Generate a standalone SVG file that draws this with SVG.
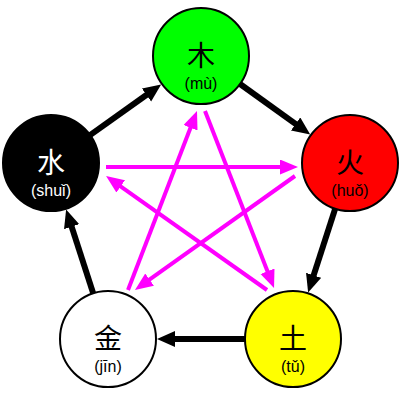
<svg xmlns="http://www.w3.org/2000/svg" width="400" height="400" viewBox="0 0 400 400">
<style>
.gen{stroke:#000;stroke-width:6;fill:none;marker-end:url(#ah)}
.ctl{stroke:#ff00ff;stroke-width:4;fill:none;marker-end:url(#mh)}
.node circle{stroke:#000;stroke-width:2}
.ch{font-family:"Noto Sans CJK SC","Noto Sans CJK TC",sans-serif;font-size:28px;text-anchor:middle}
.py{font-family:"Liberation Sans",Arial,sans-serif;font-size:16px;text-anchor:middle}
</style>
<defs>
<marker id="ah" markerUnits="userSpaceOnUse" markerWidth="20" markerHeight="18" refX="8" refY="8" orient="auto">
<path d="M0,0 L18,8 L0,16 z" fill="#000"/>
</marker>
<marker id="mh" markerUnits="userSpaceOnUse" markerWidth="20" markerHeight="18" refX="8" refY="7.5" orient="auto">
<path d="M0,0 L18,7.5 L0,15 z" fill="#ff00ff"/>
</marker>
</defs>
<g id="connectors">
<line class="gen" x1="87.6" y1="136.9" x2="153.0" y2="90.3"/>
<line class="gen" x1="237.6" y1="82.3" x2="302.1" y2="128.6"/>
<line class="gen" x1="336.1" y1="205.8" x2="311.2" y2="282.9"/>
<line class="gen" x1="248" y1="339" x2="167" y2="339"/>
<line class="gen" x1="94.1" y1="296.2" x2="69.2" y2="219.1"/>
<line class="ctl" x1="106" y1="167" x2="288" y2="167"/>
<line class="ctl" x1="295" y1="176" x2="143.1" y2="284.2"/>
<line class="ctl" x1="267" y1="290" x2="114.2" y2="181.8"/>
<line class="ctl" x1="128" y1="290" x2="193.4" y2="120.3"/>
<line class="ctl" x1="205" y1="111" x2="270.4" y2="278.7"/>
</g>
<g id="wood" class="node">
<circle cx="201" cy="56" r="48" fill="#00ff00"/>
<text class="ch" x="201" y="65.5">木</text>
<text class="py" x="201" y="88.5">(mù)</text>
</g>
<g id="fire" class="node">
<circle cx="350" cy="163" r="48" fill="#ff0000"/>
<text class="ch" x="350" y="172.5">火</text>
<text class="py" x="350" y="195.5">(huǒ)</text>
</g>
<g id="earth" class="node">
<circle cx="293" cy="339" r="48" fill="#ffff00"/>
<text class="ch" x="293" y="348.5">土</text>
<text class="py" x="293" y="371.5">(tǔ)</text>
</g>
<g id="metal" class="node">
<circle cx="108" cy="339" r="48" fill="#ffffff"/>
<text class="ch" x="108" y="348.5">金</text>
<text class="py" x="108" y="371.5">(jīn)</text>
</g>
<g id="water" class="node">
<circle cx="51" cy="163" r="48" fill="#000000"/>
<text class="ch" x="51" y="172.5" fill="#ffffff">水</text>
<text class="py" x="51" y="195.5" fill="#ffffff">(shuǐ)</text>
</g>
</svg>
